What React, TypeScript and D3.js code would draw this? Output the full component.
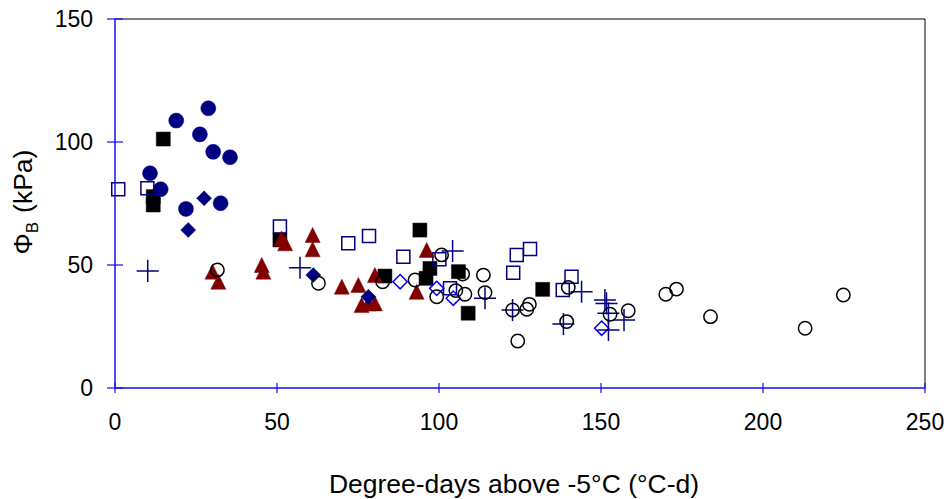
import React from "react";
import * as d3 from "d3";

// ---------- data ----------
const xTicks = [0, 50, 100, 150, 200, 250];
const yTicks = [0, 50, 100, 150];

const navyCircles: [number, number][] = [
  [28.8, 113.7], [18.9, 108.7], [26.2, 103.1], [30.3, 96], [35.5, 93.8],
  [10.8, 87.3], [14.1, 80.8], [32.6, 75.1], [21.9, 72.8],
];
const navyDiamonds: [number, number][] = [
  [27.5, 77.1], [22.6, 64.2], [61.2, 45.9], [78.2, 37.1],
];
const blackSquares: [number, number][] = [
  [14.9, 101.2], [11.8, 77.8], [11.8, 74.4], [50.9, 60.2], [83.3, 45.5],
  [94.1, 64.2], [97.2, 48.6], [96, 44.6], [106, 47.3], [109, 30.4], [132, 40.1],
];
const openSquares: [number, number][] = [
  [1.0, 80.8], [10, 81.2], [50.9, 65.6], [72, 58.8], [78.4, 61.8], [89, 53.4],
  [100.1, 52.3], [103.4, 40.5], [124, 54.1], [128.1, 56.5], [122.9, 46.9],
  [140.9, 45.2], [138.2, 39.8],
];
const redTriangles: [number, number][] = [
  [30.1, 47.3], [31.9, 43.2], [45.3, 50], [45.8, 47.3], [51.4, 60.8], [52.5, 58.8],
  [61, 62.2], [61, 56.4], [70, 41.2], [75.1, 41.9], [76.1, 33.7], [78.2, 34.4],
  [80.2, 34.4], [80.2, 45.9], [96.2, 56.1], [93.1, 39.1],
];
const blueDiamonds: [number, number][] = [
  [88, 43.2], [99.3, 40.5], [104.4, 36.5], [150.2, 24.3],
];
const navyPlus: [number, number][] = [
  [10.1, 47.6], [57.1, 48.9], [104.2, 55.7], [114.2, 36.5], [122.7, 31.7],
  [144, 39.1], [138.4, 26], [151.2, 35.8], [151.7, 34.4], [152.3, 30.4],
  [157.1, 27.6], [152.3, 23.6],
];
const openCircles: [number, number][] = [
  [31.6, 48], [62.8, 42.6], [82.6, 43.2], [92.6, 43.9], [100.8, 54.1], [99.3, 37.1],
  [105.2, 39.6], [108, 38.1], [107.3, 46.3], [113.7, 45.9], [114.2, 38.8],
  [122.7, 31.7], [127.1, 32], [127.9, 34], [124.3, 19.1], [139.9, 40.9],
  [139.4, 27], [152.8, 30], [158.4, 31.4], [170, 38.1], [173.3, 40.2],
  [183.8, 29], [213, 24.3], [224.8, 37.8],
];

// ---------- layout ----------
const W = 947;
const H = 499;
const left = 115, right = 925, top = 19, bottom = 388;
const AXIS = "#1010F0";
const FONT = "Liberation Sans, Arial, sans-serif";

const triangleType = {
  draw(ctx: any, size: number) {
    const s = Math.sqrt(size);
    ctx.moveTo(0, -s / 2);
    ctx.lineTo(s / 2, s / 2);
    ctx.lineTo(-s / 2, s / 2);
    ctx.closePath();
  },
};

export default function App() {
  const x = d3.scaleLinear().domain([0, 250]).range([left, right]);
  const y = d3.scaleLinear().domain([0, 150]).range([bottom, top]);

  const series = [
    { data: blackSquares, path: d3.symbol(d3.symbolSquare, 196)(), fill: "#000", stroke: "#000", sw: 0.5 },
    { data: openSquares, path: d3.symbol(d3.symbolSquare, 169)(), fill: "none", stroke: "#000080", sw: 1.5 },
    { data: redTriangles, path: d3.symbol(triangleType as any, 225)(), fill: "#800000", stroke: "#800000", sw: 0.5 },
    { data: navyCircles, path: d3.symbol(d3.symbolCircle, 177)(), fill: "#000080", stroke: "#000080", sw: 0.5 },
    { data: navyDiamonds, path: d3.symbol(d3.symbolDiamond2, 143)(), fill: "#000080", stroke: "#000080", sw: 0.5 },
    { data: blueDiamonds, path: d3.symbol(d3.symbolDiamond2, 130)(), fill: "none", stroke: "#0000FF", sw: 1.5 },
    { data: navyPlus, path: d3.symbol(d3.symbolPlus, 161)(), fill: "none", stroke: "#000080", sw: 1.5 },
    { data: openCircles, path: d3.symbol(d3.symbolCircle, 140)(), fill: "none", stroke: "#000", sw: 1.5 },
  ];

  return (
    <svg width={W} height={H} style={{ position: "absolute", left: 0, top: 0, background: "#fff" }} fontFamily={FONT}>
      <rect x={0} y={0} width={W} height={H} fill="#fff" />
      {/* frame */}
      <line x1={left} x2={right} y1={top} y2={top} stroke="#000" strokeWidth={1} />
      <line x1={right} x2={right} y1={top} y2={bottom} stroke="#000" strokeWidth={1} />
      {/* axes */}
      <line x1={left} x2={left} y1={top} y2={bottom} stroke={AXIS} strokeWidth={1.5} />
      <line x1={left} x2={right} y1={bottom} y2={bottom} stroke={AXIS} strokeWidth={1.5} />
      {yTicks.map((t) => (
        <g key={"y" + t}>
          <line x1={left - 8} x2={left + 8} y1={y(t)} y2={y(t)} stroke={AXIS} strokeWidth={1.2} />
          <text x={93} y={y(t)} dy="0.35em" textAnchor="end" fontSize={23} fill="#000">{t}</text>
        </g>
      ))}
      {xTicks.map((t) => (
        <g key={"x" + t}>
          <line x1={x(t)} x2={x(t)} y1={bottom - 5} y2={bottom + 5} stroke={AXIS} strokeWidth={1.2} />
          <text x={x(t)} y={422} dy="0.35em" textAnchor="middle" fontSize={23} fill="#000">{t}</text>
        </g>
      ))}
      {/* series */}
      {series.map((s, i) => (
        <g key={i}>
          {s.data.map((d, j) => (
            <path key={j} d={s.path as string} transform={`translate(${x(d[0])},${y(d[1])})`}
              fill={s.fill} stroke={s.stroke} strokeWidth={s.sw} />
          ))}
        </g>
      ))}
      {/* axis titles */}
      <text x={514} y={484} dy="0.35em" textAnchor="middle" fontSize={26.5} fill="#000">
        Degree-days above -5°C (°C-d)
      </text>
      <text transform={`translate(23,202) rotate(-90)`} textAnchor="middle" dy="0.35em" fontSize={26.5} fill="#000">
        <tspan>Φ</tspan>
        <tspan fontSize={17} dy="6">B</tspan>
        <tspan dy="-6" dx="9">(kPa)</tspan>
      </text>
    </svg>
  );
}
